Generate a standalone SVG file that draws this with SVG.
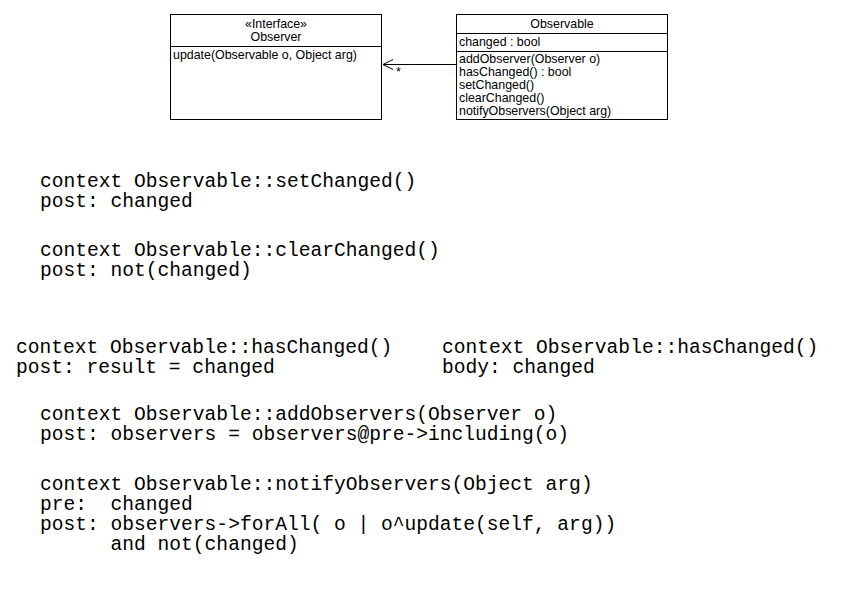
<svg xmlns="http://www.w3.org/2000/svg" width="845" height="590" viewBox="0 0 845 590">
<style>
.box{fill:#fff;stroke:#000;stroke-width:1}
.sm{font-family:"Liberation Sans",Arial,sans-serif;font-size:12.4px;fill:#000}
.c{text-anchor:middle}
.ocl{font-family:"Liberation Mono","Courier New",monospace;font-size:19.6px;fill:#000;white-space:pre}
.ln{stroke:#000;stroke-width:1;fill:none}
</style>
<rect width="845" height="590" fill="#fff"/>
<g id="observer">
<rect class="box" x="170.5" y="14.5" width="211" height="105"/>
<line class="ln" x1="170.5" y1="46.5" x2="381.5" y2="46.5"/>
<text class="sm c" x="276" y="28">«Interface»</text>
<text class="sm c" x="276" y="41">Observer</text>
<text class="sm" x="173" y="59">update(Observable o, Object arg)</text>
</g>
<g id="observable">
<rect class="box" x="456.5" y="14.5" width="211" height="105"/>
<line class="ln" x1="456.5" y1="33.5" x2="667.5" y2="33.5"/>
<line class="ln" x1="456.5" y1="51.5" x2="667.5" y2="51.5"/>
<text class="sm c" x="562" y="28">Observable</text>
<text class="sm" x="459" y="46">changed : bool</text>
<text class="sm" x="459" y="63">addObserver(Observer o)</text>
<text class="sm" x="459" y="76">hasChanged() : bool</text>
<text class="sm" x="459" y="89">setChanged()</text>
<text class="sm" x="459" y="102">clearChanged()</text>
<text class="sm" x="459" y="115">notifyObservers(Object arg)</text>
</g>
<g id="connectors">
<line class="ln" x1="456" y1="64.5" x2="383" y2="64.5"/>
<polyline class="ln" points="393,59.5 383,64.5 393,69.5"/>
<text class="sm" x="396" y="76">*</text>
</g>
<g id="constraints">
<text class="ocl" x="40" y="187">context Observable::setChanged()</text>
<text class="ocl" x="40" y="207">post: changed</text>
<text class="ocl" x="40" y="256">context Observable::clearChanged()</text>
<text class="ocl" x="40" y="276">post: not(changed)</text>
<text class="ocl" x="16" y="353">context Observable::hasChanged()</text>
<text class="ocl" x="16" y="373">post: result = changed</text>
<text class="ocl" x="442" y="353">context Observable::hasChanged()</text>
<text class="ocl" x="442" y="373">body: changed</text>
<text class="ocl" x="40" y="420">context Observable::addObservers(Observer o)</text>
<text class="ocl" x="40" y="440">post: observers = observers@pre-&gt;including(o)</text>
<text class="ocl" x="40" y="490">context Observable::notifyObservers(Object arg)</text>
<text class="ocl" x="40" y="510">pre:  changed</text>
<text class="ocl" x="40" y="530">post: observers-&gt;forAll( o | o^update(self, arg))</text>
<text class="ocl" x="40" y="550">      and not(changed)</text>
</g>
</svg>
